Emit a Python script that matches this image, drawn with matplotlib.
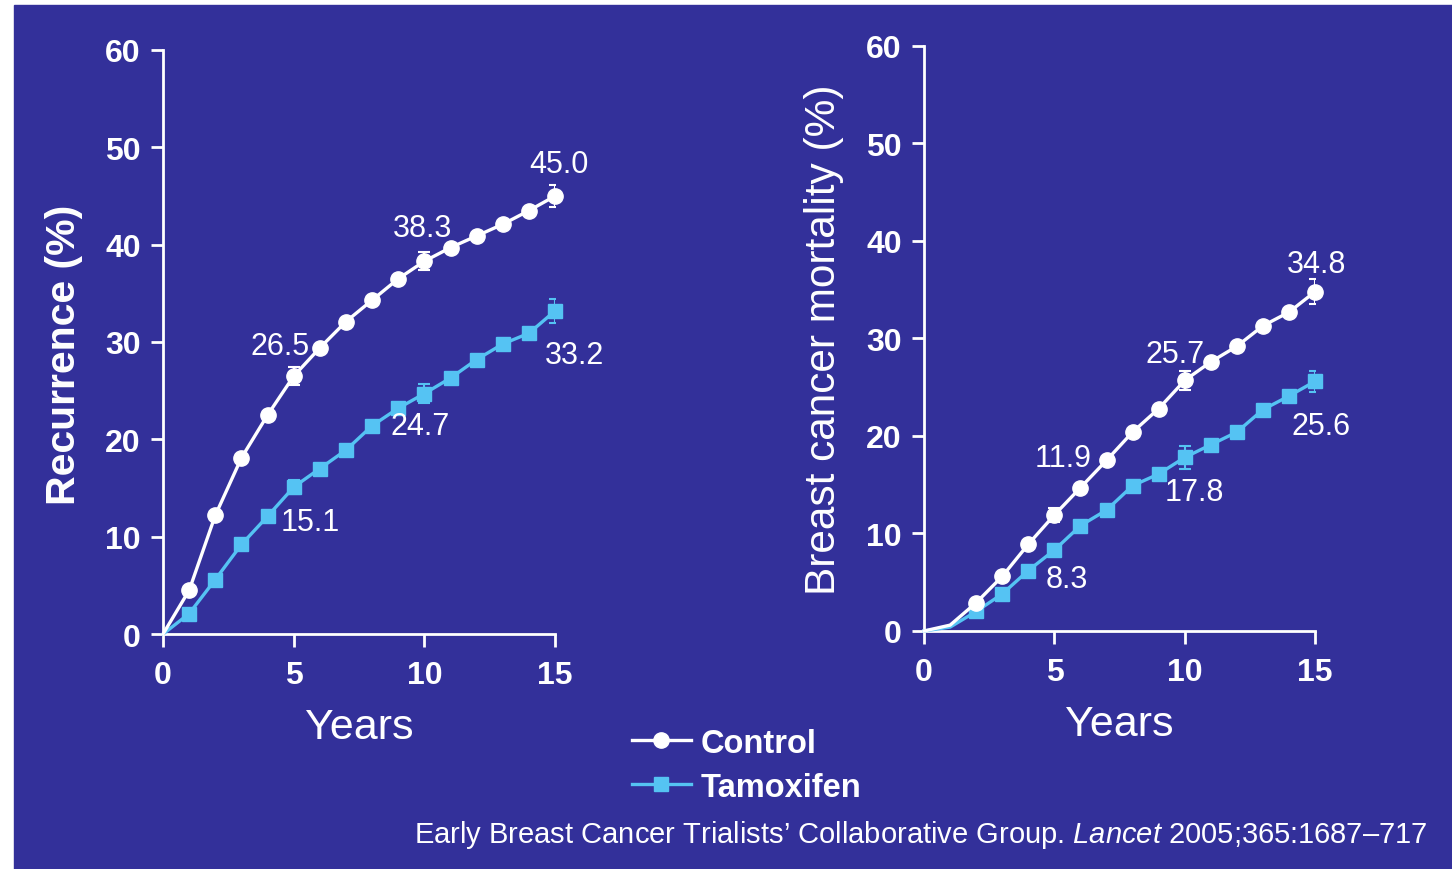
import numpy as np
import matplotlib
matplotlib.use('Agg')
import matplotlib.pyplot as plt
from matplotlib.patches import Rectangle

plt.rcParams['font.family'] = ['Liberation Sans', 'DejaVu Sans']
plt.rcParams['mathtext.fontset'] = 'custom'
plt.rcParams['mathtext.rm'] = 'Liberation Sans'
plt.rcParams['mathtext.it'] = 'Liberation Sans:italic'

BG = '#33309a'
WHITE = '#ffffff'
BLUE = '#55c3f3'

years = list(range(0, 16))

# recurrence (%)
rec_control = [0, 4.5, 12.2, 18.1, 22.5, 26.5, 29.4, 32.1, 34.3, 36.5, 38.3,
               39.7, 40.9, 42.1, 43.5, 45.0]
rec_tamox = [0, 2.1, 5.6, 9.2, 12.1, 15.1, 17.0, 18.9, 21.4, 23.2, 24.7,
             26.3, 28.2, 29.8, 30.9, 33.2]

# breast cancer mortality (%)
mort_control = [0, 0.6, 2.9, 5.6, 8.9, 11.9, 14.7, 17.5, 20.4, 22.8, 25.7,
                27.6, 29.2, 31.3, 32.7, 34.8]
mort_tamox = [0, 0.4, 2.0, 3.8, 6.2, 8.3, 10.8, 12.4, 14.9, 16.1, 17.8,
              19.1, 20.4, 22.7, 24.1, 25.6]

# error bars at 5, 10 and 15 years
err_years = [5, 10, 15]
rec_control_err = [0.9, 0.95, 1.1]
rec_tamox_err = [0.7, 1.0, 1.2]
mort_control_err = [0.7, 0.95, 1.3]
mort_tamox_err = [0.6, 1.2, 1.1]

# labelled values: (year, value, offset in points)
rec_labels = [(5, 26.5, (-10, 22)), (10, 38.3, (-1, 24)), (15, 45.0, (3, 23)),
              (5, 15.1, (12, -25)), (10, 24.7, (-3, -23)), (15, 33.2, (14, -32))]
mort_labels = [(5, 11.9, (6, 41)), (10, 25.7, (-7, 19)), (15, 34.8, (1, 20)),
               (5, 8.3, (9, -21)), (10, 17.8, (7, -25)), (15, 25.6, (4, -32))]

fig = plt.figure(figsize=(14.52, 8.70), dpi=100, facecolor='white')
fig.patches.append(Rectangle((14 / 1452, 0), 1, 1 - 6 / 870,
                             transform=fig.transFigure, color=BG, zorder=-10))

ax1 = fig.add_axes([0.1123, 0.2701, 0.2700, 0.6713])
ax2 = fig.add_axes([0.6364, 0.2736, 0.2693, 0.6724])


def draw_panel(ax, control, tamox, c_err, t_err, labels, ylabel, bold_label,
               ylabel_size, ylabel_y, markevery):
    ax.set_facecolor('none')
    lc, = ax.plot(years, control, color=WHITE, lw=2.4, marker='o', ms=11,
                  mfc=WHITE, mec=WHITE, markevery=markevery, clip_on=False, zorder=4)
    lt, = ax.plot(years, tamox, color=BLUE, lw=2.4, marker='s', ms=10.5,
                  mfc=BLUE, mec=BLUE, markevery=markevery, clip_on=False, zorder=3)
    ax.errorbar(err_years, [control[y] for y in err_years], yerr=c_err, fmt='none',
                ecolor=WHITE, elinewidth=1.5, capsize=4, capthick=1.5, zorder=5)
    ax.errorbar(err_years, [tamox[y] for y in err_years], yerr=t_err, fmt='none',
                ecolor=BLUE, elinewidth=1.5, capsize=4, capthick=1.5, zorder=3)
    for yr, val, off in labels:
        ax.annotate(f'{val:.1f}', (yr, val), xytext=off, textcoords='offset points',
                    ha='center', va='center', color=WHITE, fontsize=22)
    ax.set_xlim(0, 15)
    ax.set_ylim(0, 60)
    ax.set_xticks([0, 5, 10, 15])
    ax.set_yticks(range(0, 61, 10))
    for s in ['top', 'right']:
        ax.spines[s].set_visible(False)
    for s in ['left', 'bottom']:
        ax.spines[s].set_color(WHITE)
        ax.spines[s].set_linewidth(2)
    ax.tick_params(colors=WHITE, width=2, length=9, labelsize=23)
    ax.tick_params(axis='x', pad=10)
    ax.tick_params(axis='y', pad=7)
    for t in ax.get_xticklabels() + ax.get_yticklabels():
        t.set_fontweight('bold')
    ax.set_xlabel('Years', color=WHITE, fontsize=31, labelpad=12)
    ax.set_ylabel(ylabel, color=WHITE, fontsize=ylabel_size,
                  fontweight='bold' if bold_label else 'normal', labelpad=16)
    ax.yaxis.label.set_y(ylabel_y)
    return lc, lt


lc, lt = draw_panel(ax1, rec_control, rec_tamox, rec_control_err, rec_tamox_err,
                    rec_labels, 'Recurrence (%)', True, 29.5, 0.48, list(range(1, 16)))
draw_panel(ax2, mort_control, mort_tamox, mort_control_err, mort_tamox_err,
           mort_labels, 'Breast cancer mortality (%)', False, 30.5, 0.5,
           list(range(2, 16)))

leg = fig.legend([lc, lt], ['Control', 'Tamoxifen'], loc='upper left',
                 bbox_to_anchor=(0.415, 0.196), frameon=False, handlelength=1.8,
                 handletextpad=0.3, labelspacing=0.4,
                 prop={'size': 23.5, 'weight': 'bold'})
for t in leg.get_texts():
    t.set_color(WHITE)

fig.text(0.983, 0.022,
         'Early Breast Cancer Trialists\u2019 Collaborative Group. $Lancet$ 2005;365:1687\u2013717',
         color=WHITE, fontsize=21, ha='right', va='bottom')

fig.savefig('out.png', dpi=100, facecolor=fig.get_facecolor())
